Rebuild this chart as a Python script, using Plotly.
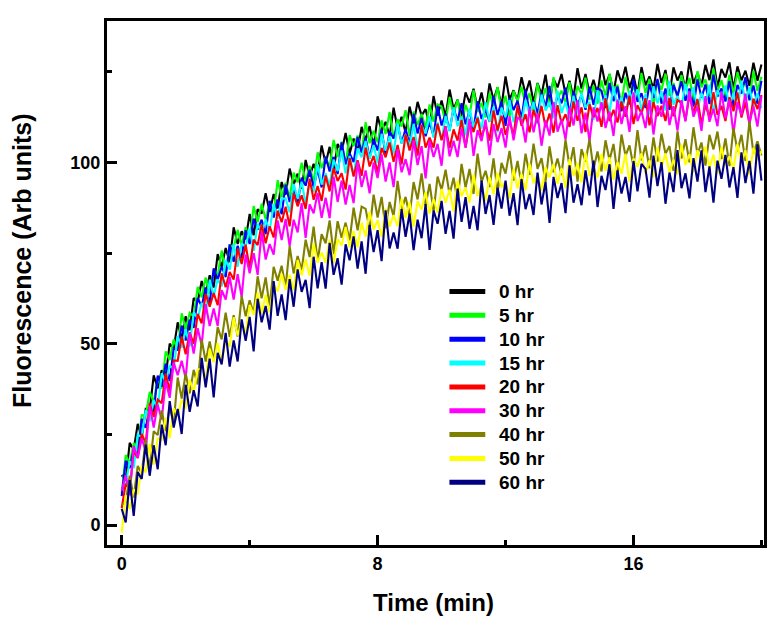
import plotly.graph_objects as go

time_min = [0, 0.125, 0.25, 0.375, 0.5, 0.625, 0.75, 0.875, 1, 1.125,
            1.25, 1.375, 1.5, 1.625, 1.75, 1.875, 2, 2.125, 2.25, 2.375,
            2.5, 2.625, 2.75, 2.875, 3, 3.125, 3.25, 3.375, 3.5, 3.625,
            3.75, 3.875, 4, 4.125, 4.25, 4.375, 4.5, 4.625, 4.75, 4.875,
            5, 5.125, 5.25, 5.375, 5.5, 5.625, 5.75, 5.875, 6, 6.125,
            6.25, 6.375, 6.5, 6.625, 6.75, 6.875, 7, 7.125, 7.25, 7.375,
            7.5, 7.625, 7.75, 7.875, 8, 8.125, 8.25, 8.375, 8.5, 8.625,
            8.75, 8.875, 9, 9.125, 9.25, 9.375, 9.5, 9.625, 9.75, 9.875,
            10, 10.125, 10.25, 10.375, 10.5, 10.625, 10.75, 10.875, 11, 11.125,
            11.25, 11.375, 11.5, 11.625, 11.75, 11.875, 12, 12.125, 12.25, 12.375,
            12.5, 12.625, 12.75, 12.875, 13, 13.125, 13.25, 13.375, 13.5, 13.625,
            13.75, 13.875, 14, 14.125, 14.25, 14.375, 14.5, 14.625, 14.75, 14.875,
            15, 15.125, 15.25, 15.375, 15.5, 15.625, 15.75, 15.875, 16, 16.125,
            16.25, 16.375, 16.5, 16.625, 16.75, 16.875, 17, 17.125, 17.25, 17.375,
            17.5, 17.625, 17.75, 17.875, 18, 18.125, 18.25, 18.375, 18.5, 18.625,
            18.75, 18.875, 19, 19.125, 19.25, 19.375, 19.5, 19.625, 19.75, 19.875,
            20]

hr0 = [13.8, 12.4, 22.7, 20.8, 27.9, 24.0, 32.0, 31.6, 41.3, 37.7,
       42.7, 41.0, 50.0, 48.5, 55.9, 51.2, 57.6, 53.7, 62.6, 61.5,
       67.3, 63.8, 68.9, 65.5, 74.7, 71.2, 76.4, 72.5, 82.1, 77.5,
       81.0, 78.8, 85.8, 79.9, 87.1, 85.9, 91.5, 86.3, 91.3, 87.3,
       94.6, 91.1, 98.3, 93.9, 96.9, 92.7, 100.7, 96.1, 99.6, 96.8,
       104.7, 99.7, 104.3, 97.8, 105.1, 103.0, 108.1, 102.4, 106.6, 103.0,
       109.8, 106.2, 110.0, 104.2, 112.7, 108.7, 111.2, 107.2, 115.1, 109.2,
       112.6, 108.2, 115.4, 110.7, 116.7, 112.9, 114.7, 109.9, 118.3, 112.9,
       117.1, 112.6, 120.1, 114.7, 117.3, 112.8, 119.3, 116.5, 120.3, 114.9,
       119.3, 113.8, 121.8, 117.2, 120.7, 115.5, 123.7, 117.3, 119.9, 117.1,
       123.5, 118.9, 122.6, 116.5, 121.9, 118.7, 124.2, 116.6, 123.0, 120.7,
       124.4, 118.8, 122.5, 117.8, 126.0, 120.4, 124.4, 119.1, 122.8, 118.7,
       126.9, 121.3, 124.3, 119.3, 125.4, 121.9, 126.4, 120.5, 124.1, 118.8,
       126.3, 121.3, 123.7, 120.2, 127.2, 121.9, 125.5, 118.7, 126.2, 122.6,
       125.1, 120.0, 127.9, 121.7, 124.7, 121.1, 126.9, 122.7, 128.4, 120.6,
       125.8, 123.4, 127.6, 120.1, 126.5, 122.6, 125.3, 121.1, 127.5, 122.5,
       127.0]
hr5 = [8.7, 19.3, 17.0, 22.6, 21.0, 30.3, 30.2, 36.7, 33.8, 40.7,
       37.6, 47.9, 45.5, 51.2, 48.1, 58.4, 54.0, 58.5, 57.5, 65.7,
       62.8, 68.3, 63.8, 70.3, 68.7, 75.7, 69.5, 77.3, 76.4, 81.4,
       77.1, 82.1, 78.6, 88.0, 83.5, 88.6, 84.3, 89.0, 85.9, 95.1,
       90.4, 94.4, 90.2, 97.2, 94.5, 99.9, 94.7, 99.1, 94.5, 102.8,
       98.4, 101.5, 98.6, 106.2, 101.5, 105.7, 99.4, 107.5, 104.5, 107.4,
       102.8, 111.1, 105.3, 108.7, 105.5, 111.6, 107.8, 113.9, 106.5, 111.9,
       109.9, 114.4, 107.3, 114.0, 110.3, 113.4, 109.5, 116.0, 111.2, 116.0,
       115.4, 110.9, 118.0, 113.2, 117.3, 110.7, 115.9, 112.8, 119.9, 113.9,
       116.4, 112.4, 119.2, 115.5, 120.8, 114.1, 118.4, 112.6, 119.7, 116.9,
       120.9, 115.7, 119.1, 114.2, 121.8, 116.8, 120.5, 115.3, 123.5, 117.6,
       119.8, 116.3, 122.1, 115.0, 121.1, 118.8, 123.4, 117.2, 121.2, 116.2,
       122.6, 118.2, 124.5, 119.2, 121.4, 116.4, 123.6, 118.3, 121.0, 117.5,
       124.7, 119.1, 123.0, 115.9, 122.6, 120.0, 124.5, 118.3, 121.9, 117.7,
       124.1, 119.9, 123.3, 117.1, 125.2, 120.7, 122.9, 118.4, 125.9, 119.6,
       122.7, 117.9, 124.2, 119.1, 124.9, 120.7, 122.2, 117.1, 125.3, 119.7,
       123.6]
hr10 = [8.0, 17.7, 15.7, 21.0, 19.1, 29.3, 26.8, 32.4, 31.3, 41.2,
        38.1, 44.5, 39.7, 48.7, 48.3, 55.0, 50.9, 56.6, 54.4, 62.6,
        60.3, 65.5, 61.0, 70.8, 67.6, 71.3, 68.4, 77.4, 72.6, 77.0,
        73.6, 81.3, 77.5, 84.5, 81.5, 84.2, 80.2, 89.4, 84.8, 89.8,
        85.7, 93.9, 89.1, 92.5, 88.6, 95.8, 93.6, 98.0, 93.1, 98.1,
        93.1, 101.6, 97.5, 101.5, 96.8, 105.5, 99.5, 102.5, 100.1, 107.0,
        102.7, 106.9, 101.1, 106.4, 103.3, 109.2, 101.8, 108.6, 106.6, 110.6,
        105.3, 109.3, 104.9, 113.4, 108.0, 112.3, 107.2, 111.1, 107.2, 115.6,
        110.2, 113.5, 108.7, 115.0, 111.5, 116.3, 110.5, 114.3, 109.1, 116.9,
        112.0, 114.6, 111.2, 118.3, 113.1, 116.9, 110.1, 117.8, 114.4, 117.0,
        112.0, 120.0, 113.8, 117.0, 113.5, 119.3, 115.2, 121.1, 113.4, 118.6,
        116.3, 120.6, 113.2, 119.6, 115.8, 118.6, 114.5, 120.9, 115.9, 120.5,
        119.7, 115.0, 121.9, 116.9, 120.9, 114.1, 119.2, 116.0, 122.9, 116.7,
        119.1, 115.0, 121.6, 117.8, 123.0, 116.2, 120.4, 114.5, 121.4, 118.4,
        122.4, 117.0, 120.4, 115.4, 122.9, 117.8, 121.5, 116.1, 124.2, 118.2,
        120.4, 116.8, 122.5, 115.3, 121.4, 119.0, 123.5, 117.2, 121.2, 116.2,
        122.5]
hr15 = [10.5, 11.2, 17.6, 15.7, 24.9, 24.3, 31.7, 28.6, 34.5, 31.8,
        41.9, 39.3, 44.1, 42.9, 52.1, 48.9, 54.0, 49.2, 58.7, 57.0,
        61.3, 58.1, 67.7, 63.1, 67.8, 65.8, 73.1, 70.4, 77.6, 71.2,
        77.7, 76.7, 81.8, 75.6, 83.1, 80.4, 84.2, 81.1, 88.5, 84.5,
        90.0, 90.1, 86.2, 94.1, 89.9, 94.7, 88.6, 94.5, 91.8, 99.5,
        93.9, 97.0, 93.5, 100.8, 97.6, 103.3, 97.0, 101.8, 96.4, 103.9,
        101.4, 105.9, 101.0, 104.8, 99.9, 107.9, 103.2, 107.3, 102.3, 110.8,
        105.2, 107.7, 104.5, 110.6, 103.7, 110.1, 108.0, 112.8, 106.8, 111.0,
        106.2, 112.8, 108.6, 115.2, 110.0, 112.4, 107.5, 114.9, 109.7, 112.7,
        109.3, 116.7, 111.2, 115.3, 108.3, 115.1, 112.5, 117.2, 111.1, 114.9,
        110.8, 117.3, 113.2, 116.7, 110.5, 118.7, 114.3, 116.6, 112.2, 119.8,
        113.6, 116.7, 112.0, 118.4, 113.4, 119.2, 115.1, 116.7, 111.7, 119.9,
        114.5, 118.5, 113.7, 121.0, 115.4, 117.9, 113.1, 119.5, 116.5, 120.2,
        114.5, 118.8, 113.1, 121.0, 116.3, 119.7, 114.3, 122.5, 115.9, 118.3,
        115.4, 121.7, 117.0, 120.7, 114.4, 119.2, 116.0, 121.4, 113.6, 119.9,
        117.6, 121.2, 115.5, 119.1, 114.4, 122.5, 116.8, 120.7, 115.4, 119.1,
        114.9]
hr20 = [4.7, 11.4, 9.7, 20.4, 18.5, 25.1, 22.6, 33.6, 29.8, 34.6,
        33.6, 41.8, 37.0, 45.4, 45.3, 52.0, 47.1, 53.1, 50.0, 58.2,
        55.6, 63.8, 60.2, 64.0, 60.6, 69.4, 65.6, 69.8, 67.7, 76.3,
        72.0, 77.3, 70.8, 78.7, 77.2, 82.9, 77.7, 82.4, 79.3, 86.7,
        83.5, 87.8, 82.4, 91.5, 87.9, 90.9, 87.2, 95.5, 89.7, 93.5,
        89.4, 96.4, 92.0, 98.4, 94.9, 97.0, 92.5, 101.2, 96.1, 100.6,
        96.3, 104.1, 98.9, 101.8, 97.2, 104.0, 101.4, 105.5, 100.2, 104.8,
        99.5, 107.7, 103.3, 107.0, 101.9, 110.4, 104.1, 106.8, 104.1, 110.7,
        106.1, 110.0, 104.0, 109.1, 106.0, 111.7, 104.1, 110.6, 108.4, 112.3,
        106.8, 110.6, 106.0, 114.3, 108.8, 112.9, 107.6, 111.4, 107.4, 115.7,
        110.1, 113.3, 108.3, 114.5, 111.0, 115.6, 109.7, 113.5, 108.2, 115.8,
        110.8, 113.3, 109.8, 116.8, 111.5, 115.2, 108.4, 116.0, 112.5, 115.0,
        109.8, 117.7, 111.4, 114.5, 111.0, 116.8, 112.6, 118.4, 110.6, 115.8,
        113.4, 117.7, 110.2, 116.6, 112.8, 115.6, 111.4, 117.8, 112.7, 117.2,
        116.4, 111.6, 118.6, 113.6, 117.5, 110.6, 115.8, 112.5, 119.4, 113.1,
        115.6, 111.4, 118.0, 114.1, 119.3, 112.4, 116.6, 110.6, 117.6, 114.7,
        118.6]
hr30 = [9.5, 13.7, 8.2, 21.8, 18.5, 23.9, 20.4, 32.9, 26.9, 33.2,
        29.1, 39.7, 35.1, 44.8, 41.3, 45.3, 40.4, 53.1, 47.3, 54.3,
        49.6, 60.9, 54.9, 59.7, 54.9, 64.8, 62.2, 68.4, 62.2, 69.2,
        62.9, 74.6, 69.4, 75.0, 69.0, 80.9, 73.2, 77.5, 74.6, 84.0,
        78.6, 84.4, 76.9, 84.2, 80.7, 88.8, 79.2, 88.4, 86.0, 91.6,
        84.7, 90.3, 84.6, 96.1, 89.1, 95.0, 88.4, 93.8, 88.8, 100.2,
        93.2, 97.8, 91.5, 100.0, 95.7, 102.2, 94.7, 100.0, 93.2, 103.7,
        97.3, 100.9, 96.5, 106.1, 99.3, 104.5, 95.6, 106.0, 101.5, 105.1,
        99.1, 109.8, 101.7, 106.0, 101.5, 109.4, 104.1, 112.0, 101.8, 108.9,
        105.9, 111.8, 102.0, 110.6, 105.6, 109.5, 104.1, 112.7, 106.1, 112.3,
        111.7, 105.5, 114.9, 108.3, 113.6, 104.6, 111.6, 107.4, 116.7, 108.5,
        111.8, 106.3, 115.2, 110.2, 117.1, 108.0, 113.7, 105.9, 115.2, 111.3,
        116.6, 109.5, 114.0, 107.3, 117.3, 110.6, 115.5, 108.4, 119.3, 111.4,
        114.2, 109.5, 117.2, 107.7, 115.7, 112.6, 118.6, 110.3, 115.5, 108.8,
        117.2, 111.3, 119.7, 112.6, 115.4, 108.7, 118.3, 111.2, 114.8, 110.0,
        119.6, 112.1, 117.3, 107.8, 116.6, 113.0, 119.0, 110.7, 115.5, 109.9,
        118.3]
hr40 = [5.5, 6.3, 13.6, 7.6, 16.3, 14.2, 23.6, 15.4, 25.9, 24.8,
        31.6, 25.9, 32.6, 28.1, 40.7, 34.9, 41.8, 36.3, 42.8, 38.8,
        51.1, 45.1, 50.6, 45.2, 54.6, 51.2, 58.6, 51.9, 57.9, 52.0,
        63.2, 57.6, 62.0, 58.3, 68.6, 62.5, 68.3, 60.2, 71.2, 67.4,
        71.5, 65.6, 76.9, 69.4, 74.2, 70.3, 78.7, 73.9, 82.3, 72.7,
        80.2, 77.7, 84.0, 74.7, 83.8, 79.2, 83.4, 78.5, 87.5, 81.3,
        87.8, 87.2, 81.4, 91.1, 84.8, 90.5, 81.8, 89.1, 85.2, 94.9,
        86.9, 90.5, 85.3, 94.6, 89.8, 97.0, 88.1, 94.1, 86.5, 96.1,
        92.4, 98.0, 91.1, 95.8, 89.3, 99.6, 93.1, 98.2, 91.3, 102.4,
        94.6, 97.7, 93.2, 101.1, 91.7, 99.9, 96.9, 103.2, 95.0, 100.4,
        93.8, 102.4, 96.6, 105.2, 98.2, 101.2, 94.6, 104.4, 97.3, 101.1,
        96.5, 106.3, 98.8, 104.2, 94.7, 103.7, 100.2, 106.4, 98.1, 103.0,
        97.5, 106.1, 100.6, 105.1, 96.8, 107.7, 101.8, 104.7, 98.8, 108.9,
        100.6, 104.7, 98.4, 106.9, 100.2, 107.9, 102.4, 104.5, 97.7, 108.6,
        101.1, 106.4, 100.0, 109.7, 102.2, 105.5, 99.1, 107.6, 103.6, 108.5,
        100.9, 106.6, 99.0, 109.5, 103.1, 107.6, 100.4, 111.3, 102.5, 105.8,
        101.9]
hr50 = [-2.1, 8.2, 4.4, 9.8, 8.5, 16.5, 14.5, 22.4, 16.7, 23.9,
        23.5, 29.6, 24.0, 32.2, 30.1, 34.6, 32.1, 40.1, 36.7, 42.8,
        43.4, 40.2, 48.6, 44.9, 50.2, 44.7, 51.2, 49.2, 57.3, 52.3,
        55.9, 52.9, 60.7, 57.9, 64.1, 58.3, 63.5, 58.6, 66.5, 64.5,
        69.3, 64.8, 69.0, 64.8, 73.1, 68.9, 73.3, 68.7, 77.6, 72.4,
        75.2, 72.3, 78.7, 72.2, 78.9, 77.1, 82.2, 76.6, 81.1, 76.6,
        83.4, 79.5, 86.4, 81.5, 84.1, 79.5, 87.2, 82.3, 85.5, 82.4,
        90.0, 84.7, 89.0, 82.3, 89.3, 87.0, 91.8, 85.9, 89.9, 86.1,
        92.7, 88.9, 92.5, 86.5, 94.9, 90.7, 93.1, 88.9, 96.7, 90.7,
        93.9, 89.4, 96.0, 91.2, 97.1, 93.1, 94.8, 90.0, 98.3, 92.8,
        96.9, 92.3, 99.7, 94.2, 96.8, 92.2, 98.7, 95.9, 99.6, 94.1,
        98.5, 93.0, 100.9, 96.3, 99.7, 94.5, 102.7, 96.3, 98.8, 95.9,
        102.3, 97.7, 101.4, 95.2, 100.1, 96.9, 102.4, 94.7, 101.1, 98.8,
        102.5, 96.9, 100.6, 95.9, 104.1, 98.5, 102.5, 97.2, 100.8, 96.7,
        104.9, 99.3, 102.3, 97.3, 103.4, 99.9, 104.4, 98.5, 102.1, 96.8,
        104.3, 99.3, 101.7, 98.2, 105.1, 99.8, 103.4, 96.6, 104.1, 100.6,
        103.1]
hr60 = [4.5, 0.7, 12.4, 2.5, 14.6, 12.7, 22.2, 13.6, 22.0, 15.4,
        27.7, 22.0, 34.2, 26.9, 32.0, 25.1, 38.7, 31.2, 37.2, 32.7,
        46.1, 38.0, 45.9, 35.2, 47.5, 44.3, 53.0, 43.7, 50.9, 45.1,
        56.7, 50.8, 57.4, 47.9, 62.4, 55.9, 60.4, 53.9, 67.3, 57.7,
        63.6, 56.5, 67.8, 60.2, 70.5, 64.3, 67.6, 59.8, 74.0, 65.3,
        72.5, 65.2, 77.8, 69.0, 73.6, 66.3, 77.4, 73.0, 79.6, 70.7,
        78.2, 69.3, 82.8, 75.3, 81.3, 72.8, 86.8, 76.3, 80.7, 76.2,
        87.1, 79.5, 85.9, 75.8, 84.2, 79.1, 88.5, 75.9, 86.7, 83.1,
        89.4, 80.3, 86.6, 79.0, 92.8, 83.6, 90.4, 81.7, 88.0, 81.3,
        95.0, 85.8, 91.0, 82.8, 93.0, 87.3, 95.0, 85.3, 91.5, 82.7,
        95.4, 87.1, 91.3, 85.5, 97.2, 88.4, 94.6, 83.3, 96.0, 90.2,
        94.3, 86.0, 99.2, 88.9, 94.0, 88.2, 97.8, 90.9, 100.5, 87.7,
        96.3, 92.4, 99.5, 87.2, 97.8, 91.4, 96.0, 89.1, 100.4, 92.0,
        99.6, 98.2, 90.3, 101.9, 93.5, 100.1, 88.6, 97.2, 91.8, 103.4,
        92.9, 97.0, 90.1, 101.2, 94.7, 103.3, 91.8, 98.9, 88.9, 100.5,
        95.5, 102.1, 93.1, 98.7, 90.2, 102.8, 94.3, 100.4, 91.4, 105.0,
        95.0]

series_names = ["0 hr", "5 hr", "10 hr", "15 hr", "20 hr", "30 hr", "40 hr", "50 hr", "60 hr"]
series_values = [hr0, hr5, hr10, hr15, hr20, hr30, hr40, hr50, hr60]
series_colors = ["#000000", "#00FF00", "#0000FF", "#00FFFF", "#FF0000",
                 "#FF00FF", "#808000", "#FFFF00", "#000080"]

FONT = "Liberation Sans, Arial, sans-serif"

# page body has an 8px margin: figure size / margins compensate so the plot
# frame lands at x 107..767, y 20..545 in the 777x625 window
W, H = 769, 617
ML, MR, MT, MB = 99, 10, 12, 80
PW, PH = W - ML - MR, H - MT - MB   # 660 x 525


def px_x(px):
    return (px - 8 - ML) / PW


def px_y(py):
    return (H - MB - (py - 8)) / PH


fig = go.Figure()
for name, vals, col in zip(series_names, series_values, series_colors):
    fig.add_trace(go.Scatter(x=time_min, y=vals, mode="lines", name=name,
                             line=dict(color=col, width=2.1), showlegend=False))

axis_common = dict(
    showline=True, linecolor="black", linewidth=3, mirror=True,
    ticks="inside", tickcolor="black", tickwidth=3,
    showgrid=False, zeroline=False,
    tickfont=dict(family=FONT, size=18, color="black", weight="bold"),
)

# hand-built legend (thick sample lines, as in the original)
shapes = []
annotations = []
for k, (name, col) in enumerate(zip(series_names, series_colors)):
    yrow = px_y(291 + 23.9 * k)
    shapes.append(dict(type="line", xref="paper", yref="paper",
                       x0=px_x(451), x1=px_x(487), y0=yrow, y1=yrow,
                       line=dict(color=col, width=5)))
    annotations.append(dict(text=name, xref="paper", yref="paper",
                            x=px_x(499), y=yrow, xanchor="left", yanchor="middle",
                            showarrow=False,
                            font=dict(family=FONT, size=19, color="black", weight="bold")))

annotations += [
    dict(text="Time (min)", xref="paper", yref="paper", x=px_x(435), y=px_y(603),
         xanchor="center", yanchor="middle", showarrow=False,
         font=dict(family=FONT, size=24, color="black", weight="bold")),
    dict(text="Fluorescence (Arb units)", xref="paper", yref="paper", x=px_x(21), y=px_y(260),
         xanchor="center", yanchor="middle", textangle=-90, showarrow=False,
         font=dict(family=FONT, size=25, color="black", weight="bold")),
]

fig.update_layout(
    width=W, height=H,
    margin=dict(l=ML, r=MR, t=MT, b=MB),
    paper_bgcolor="white", plot_bgcolor="white",
    xaxis=dict(range=[-0.46, 20.08], tickmode="linear", tick0=0, dtick=8, ticklen=10,
               minor=dict(ticks="inside", dtick=4, tick0=0, ticklen=5, tickwidth=3, tickcolor="black"),
               **axis_common),
    yaxis=dict(range=[-5.5, 139.0], tickmode="linear", tick0=0, dtick=50, ticklen=10,
               minor=dict(ticks="inside", dtick=25, tick0=0, ticklen=5, tickwidth=3, tickcolor="black"),
               **axis_common),
    showlegend=False,
    shapes=shapes,
    annotations=annotations,
)

fig.write_html("out.html")
